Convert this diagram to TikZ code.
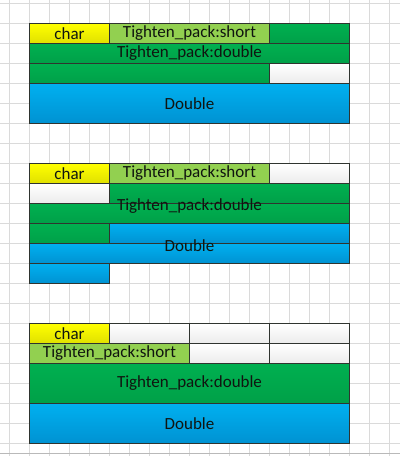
\documentclass[tikz,border=0pt]{standalone}
\usepackage{fontspec}
\setmainfont{Carlito}
\definecolor{gridgrey}{HTML}{DADADA}
\definecolor{cellline}{HTML}{2F342F}
\definecolor{celltext}{HTML}{101510}

\tikzset{
  gridline/.style={draw=gridgrey, line width=0.8pt},
  cell/.style={draw=cellline, line width=1pt},
  charcell/.style={cell, top color=yellow!100, bottom color=yellow!88!black},
  shortcell/.style={cell, fill={rgb,255:red,146;green,208;blue,80}},
  dblcell/.style={cell, top color={rgb,255:red,0;green,176;blue,80}, bottom color={rgb,255:red,0;green,160;blue,72}},
  bigcell/.style={cell, top color={rgb,255:red,0;green,176;blue,240}, bottom color={rgb,255:red,0;green,146;blue,210}},
  emptycell/.style={cell, top color=white, bottom color={rgb,255:red,236;green,236;blue,236}},
  lbl/.style={text=celltext, font=\fontsize{17}{20}\selectfont, inner sep=0pt}
}

\begin{document}
\begin{tikzpicture}[x=1pt,y=-1pt]
	\useasboundingbox (0,0) rectangle (400,456);
	\fill[white] (0,0) rectangle (400,456);
	% background grid
	\foreach \gx in {9.5,29.5,...,389.5} \draw[gridline] (\gx,0) -- (\gx,456);
	\foreach \gy in {3.5,23.5,...,443.5} \draw[gridline] (0,\gy) -- (400,\gy);
	\draw[draw=gridgrey!85!black, line width=1.4pt] (0,453.5) -- (400,453.5);

	% first layout
	\draw[charcell] (29.5,23.5) rectangle (109.5,43.5);
	\draw[shortcell] (109.5,23.5) rectangle (269.5,43.5);
	\draw[dblcell] (269.5,23.5) rectangle (349.5,43.5);
	\draw[dblcell] (29.5,43.5) rectangle (349.5,63.5);
	\draw[dblcell] (29.5,63.5) rectangle (269.5,83.5);
	\draw[emptycell] (269.5,63.5) rectangle (349.5,83.5);
	\draw[bigcell] (29.5,83.5) rectangle (349.5,123.5);
	\node[lbl] (charA) at (69.5,33.5) {char};
	\node[lbl] (shortA) at (189.5,33.5) {Tighten\_pack:short};
	\node[lbl] (dblA) at (189.5,53.5) {Tighten\_pack:double};
	\node[lbl] (bigA) at (189.5,103.5) {Double};

	% second layout
	\draw[charcell] (29.5,163.5) rectangle (109.5,183.5);
	\draw[shortcell] (109.5,163.5) rectangle (269.5,183.5);
	\draw[emptycell] (269.5,163.5) rectangle (349.5,183.5);
	\draw[emptycell] (29.5,183.5) rectangle (109.5,203.5);
	\draw[dblcell] (109.5,183.5) rectangle (349.5,203.5);
	\draw[dblcell] (29.5,203.5) rectangle (349.5,223.5);
	\draw[dblcell] (29.5,223.5) rectangle (109.5,243.5);
	\draw[bigcell] (109.5,223.5) rectangle (349.5,243.5);
	\draw[bigcell] (29.5,243.5) rectangle (349.5,263.5);
	\draw[bigcell] (29.5,263.5) rectangle (109.5,283.5);
	\node[lbl] (charB) at (69.5,173.5) {char};
	\node[lbl] (shortB) at (189.5,173.5) {Tighten\_pack:short};
	\node[lbl] (dblB) at (189.5,206) {Tighten\_pack:double};
	\node[lbl] (bigB) at (189.5,246) {Double};

	% third layout
	\draw[charcell] (29.5,323.5) rectangle (109.5,343.5);
	\draw[emptycell] (109.5,323.5) rectangle (189.5,343.5);
	\draw[emptycell] (189.5,323.5) rectangle (269.5,343.5);
	\draw[emptycell] (269.5,323.5) rectangle (349.5,343.5);
	\draw[shortcell] (29.5,343.5) rectangle (189.5,363.5);
	\draw[emptycell] (189.5,343.5) rectangle (269.5,363.5);
	\draw[emptycell] (269.5,343.5) rectangle (349.5,363.5);
	\draw[dblcell] (29.5,363.5) rectangle (349.5,403.5);
	\draw[bigcell] (29.5,403.5) rectangle (349.5,443.5);
	\node[lbl] (charC) at (69.5,333.5) {char};
	\node[lbl] (shortC) at (109.5,353.5) {Tighten\_pack:short};
	\node[lbl] (dblC) at (189.5,383.5) {Tighten\_pack:double};
	\node[lbl] (bigC) at (189.5,423.5) {Double};
\end{tikzpicture}
\end{document}
